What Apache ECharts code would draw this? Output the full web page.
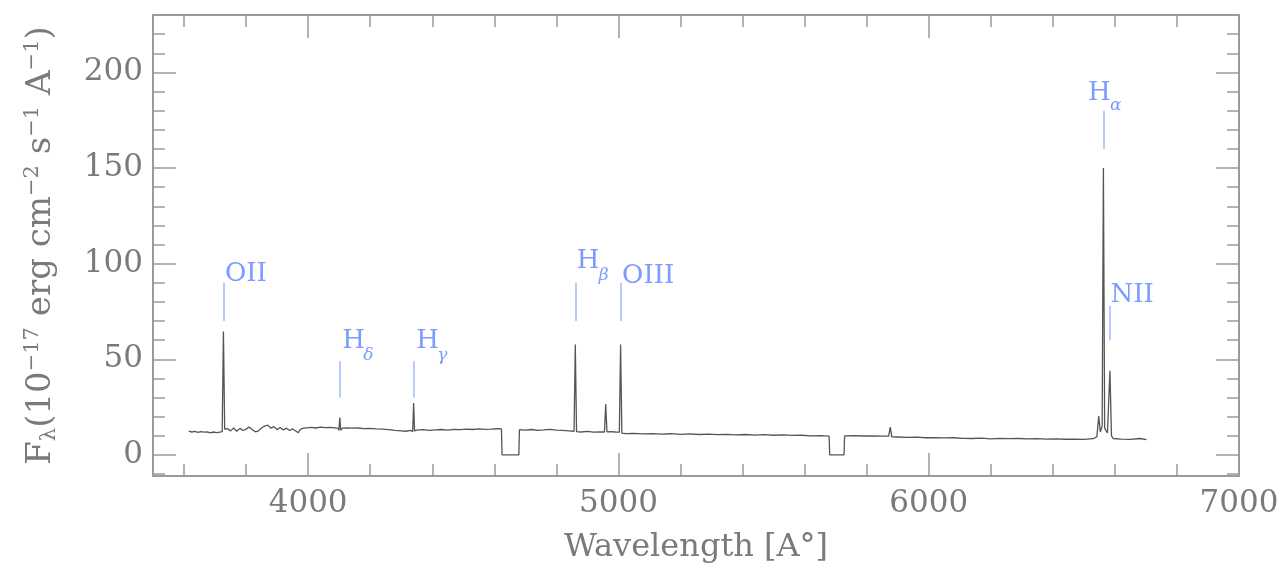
<!DOCTYPE html>
<html><head><meta charset="utf-8">
<script src="https://cdn.jsdelivr.net/npm/echarts@6/dist/echarts.min.js"></script>
<style>html,body{margin:0;padding:0;background:#fff;} #c{width:1282px;height:569px;}</style>
</head><body><div id="c"></div>
<script>
// ---- data ----
const wavelength = [
 3615,3625,3635,3645,3655,3665,3675,3685,3695,3705,3715,3723,
 3727,3731,
 3740,3750,3760,3770,3780,3790,3800,3810,3820,3830,3840,3850,3860,3870,3880,3890,3900,3910,3920,3930,3940,3950,3960,3968,3975,3985,3995,
 4010,4025,4040,4055,4070,4085,4097,4099,4102,4105,4110,
 4125,4140,4160,4180,4200,4220,4240,4260,4280,4300,4315,4330,4337,4340,4343,4350,
 4370,4390,4410,4430,4450,4470,4490,4510,4530,4550,4570,4590,4610,4623,4625,4679,4681,
 4700,4720,4740,4760,4780,4800,4820,4840,4857,4861,4865,4880,4900,4920,4940,4955,4959,4963,4975,4990,5003,5007,5011,5025,
 5050,5080,5110,5140,5170,5200,5230,5260,5290,5320,5350,5380,5410,5440,5470,5500,5530,5560,5590,5620,5650,5679,5681,5727,5729,
 5760,5790,5820,5850,5871,5876,5881,5900,5930,5960,5990,6020,6050,6080,6110,6140,6170,6200,6230,6260,6290,6320,6350,6380,6410,6440,6470,6500,6530,
 6542,6548,6553,6559,6563,6567,6576,6584,6589,6595,6620,6650,6680,6702
];
const flux = [
 12.4,12.0,12.3,11.8,12.2,11.9,12.1,11.6,12.0,11.7,11.9,12.2,
 64.6,13.5,
 13.8,12.6,14.1,12.4,13.9,12.8,13.5,14.6,13.2,12.1,12.6,14.2,15.1,15.6,14.0,14.8,13.2,14.4,13.1,14.0,12.8,13.6,12.5,11.6,13.4,14.0,14.2,
 14.4,14.1,14.5,14.3,14.4,14.2,13.9,12.8,19.6,12.9,14.0,
 14.2,14.0,14.1,13.8,13.9,13.6,13.5,13.2,12.8,12.6,12.4,12.9,12.2,27.2,12.6,13.0,
 13.2,12.9,13.1,13.3,13.0,13.4,13.2,13.5,13.3,13.6,13.4,13.5,13.7,13.6,0,0,13.2,
 13.0,13.3,12.9,13.1,13.4,13.0,12.8,12.6,12.4,57.7,12.2,12.0,12.3,11.9,12.1,12.0,26.6,12.1,12.2,12.0,11.9,57.7,11.4,11.2,
 11.3,11.0,11.2,10.9,11.1,10.8,11.0,10.7,10.9,10.6,10.8,10.5,10.7,10.4,10.6,10.3,10.5,10.2,10.3,10.0,10.1,9.8,0,0,10.0,
 10.1,9.9,10.0,9.8,9.9,14.6,9.5,9.4,9.2,9.3,9.0,9.1,8.9,9.0,8.7,8.6,8.8,8.4,8.7,8.5,8.6,8.4,8.5,8.3,8.4,8.2,8.3,8.1,8.5,
 9.6,20.3,12.0,15.0,150,14.0,11.5,44,10.0,8.6,8.3,8.1,8.6,8.0
];
const xMajorTicks = [4000, 5000, 6000, 7000];
const xMinorTicks = [3600,3800,4200,4400,4600,4800,5200,5400,5600,5800,6200,6400,6600,6800];
const yMajorTicks = [0, 50, 100, 150, 200];
const yMinorTicks = [-10,10,20,30,40,60,70,80,90,110,120,130,140,160,170,180,190,210,220];
const lineNames = ['OII', 'Hδ', 'Hγ', 'Hβ', 'OIII', 'Hα', 'NII'];
const lineWave  = [3727, 4102, 4340, 4861, 5007, 6563, 6584];
const markLow   = [70, 30, 30, 70, 70, 160, 60];
const markHigh  = [90, 49, 49, 90, 90, 180, 78];

// ---- layout / style ----
const X_MIN = 3500, X_MAX = 7000, Y_MIN = -11, Y_MAX = 230;
const serif = 'DejaVu Serif';
const axisColor = '#9a9a9a';
const textColor = '#7a7a7a';
const blue = '#5a82ff';
const blueLine = '#a6bdff';
const MAIN_FS = 26, SUB_FS = 17;
const labelLayout = {
  'OII':  {dx: 2,  dy: 0},
  'OIII': {dx: 2,  dy: 2},
  'NII':  {dx: 1,  dy: -2},
  'Hδ':   {dx: 3,  dy: -12, sdx: 24, sdy: 0},
  'Hγ':   {dx: 3,  dy: -12, sdx: 24, sdy: 0},
  'Hβ':   {dx: 2,  dy: -13, sdx: 24, sdy: -2},
  'Hα':   {dx: -15, dy: -9, sdx: 7,  sdy: 1}
};
const plainNum = v => String(Math.round(v));

function xAx(position, ticks, len, withLabels) {
  return {
    type: 'value', min: X_MIN, max: X_MAX, position: position,
    axisLine: {show: len > 15, onZero: false, lineStyle: {color: axisColor, width: 2}},
    axisTick: {show: true, inside: true, length: len, customValues: ticks, lineStyle: {color: axisColor, width: 1.5}},
    axisLabel: withLabels ? {show: true, customValues: ticks, formatter: plainNum, margin: 12, color: textColor, fontFamily: serif, fontSize: 31} : {show: false},
    splitLine: {show: false}
  };
}
function yAx(position, ticks, len, withLabels) {
  return {
    type: 'value', min: Y_MIN, max: Y_MAX, position: position,
    axisLine: {show: len > 15, onZero: false, lineStyle: {color: axisColor, width: 2}},
    axisTick: {show: true, inside: true, length: len, customValues: ticks, lineStyle: {color: axisColor, width: 1.5}},
    axisLabel: withLabels ? {show: true, customValues: ticks, formatter: plainNum, margin: 10, color: textColor, fontFamily: serif, fontSize: 31} : {show: false},
    splitLine: {show: false}
  };
}

const xAxes = [
  xAx('bottom', xMajorTicks, 23, true),
  xAx('bottom', xMinorTicks, 12, false),
  xAx('top', xMajorTicks, 23, false),
  xAx('top', xMinorTicks, 12, false)
];
Object.assign(xAxes[0], {
  name: 'Wavelength [A°]', nameLocation: 'middle', nameGap: 56,
  nameTextStyle: {color: textColor, fontFamily: serif, fontSize: 32}
});
const yAxes = [
  yAx('left', yMajorTicks, 23, true),
  yAx('left', yMinorTicks, 12, false),
  yAx('right', yMajorTicks, 23, false),
  yAx('right', yMinorTicks, 12, false)
];
Object.assign(yAxes[0], {
  name: '{m|F}{sb|λ}{m|(10}{sp|−17}{m| erg cm}{sp|−2}{m| s}{sp|−1}{m| A}{sp|−1}{m|)}',
  nameLocation: 'middle', nameGap: 93,
  nameTextStyle: {
    color: textColor, fontFamily: serif, fontSize: 34,
    rich: {
      m:  {color: textColor, fontFamily: serif, fontSize: 34, lineHeight: 38, verticalAlign: 'middle'},
      sp: {color: textColor, fontFamily: serif, fontSize: 21, lineHeight: 21, verticalAlign: 'top'},
      sb: {color: textColor, fontFamily: serif, fontSize: 21, lineHeight: 21, verticalAlign: 'bottom'}
    }
  }
});

const spectrum = wavelength.map((w, i) => [w, flux[i]]);
const markSegments = lineWave.map((w, i) => [{coord: [w, markLow[i]]}, {coord: [w, markHigh[i]]}]);

const mainLabels = lineNames.map((n, i) => {
  const L = labelLayout[n];
  const greek = n.length === 2 && n[0] === 'H';
  return {
    value: [lineWave[i], markHigh[i]],
    label: {
      formatter: greek ? 'H' : n,
      offset: [L.dx, L.dy - 0.3 * MAIN_FS]
    }
  };
});
const subLabels = lineNames.map((n, i) => ({n, i})).filter(o => o.n.length === 2 && o.n[0] === 'H').map(o => {
  const L = labelLayout[o.n];
  return {
    value: [lineWave[o.i], markHigh[o.i]],
    label: {formatter: o.n.slice(1), offset: [L.sdx, L.sdy - 0.3 * SUB_FS]}
  };
});

const chart = echarts.init(document.getElementById('c'), null, {renderer: 'canvas'});
chart.setOption({
  animation: false,
  backgroundColor: '#ffffff',
  grid: {left: 153, right: 43, top: 15, bottom: 92},
  xAxis: xAxes,
  yAxis: yAxes,
  series: [
    {
      type: 'line', data: spectrum, xAxisIndex: 0, yAxisIndex: 0,
      showSymbol: false, symbol: 'none',
      lineStyle: {color: '#555555', width: 1.3},
      markLine: {
        silent: true, symbol: ['none', 'none'], animation: false,
        label: {show: false},
        lineStyle: {color: blueLine, width: 1.6, type: 'solid'},
        emphasis: {disabled: true},
        data: markSegments
      }
    },
    {
      type: 'scatter', data: mainLabels, symbolSize: 1, itemStyle: {color: 'transparent'},
      silent: true,
      label: {show: true, position: [0, 0], align: 'left', verticalAlign: 'middle',
        color: blue, fontFamily: serif, fontSize: MAIN_FS}
    },
    {
      type: 'scatter', data: subLabels, symbolSize: 1, itemStyle: {color: 'transparent'},
      silent: true,
      label: {show: true, position: [0, 0], align: 'left', verticalAlign: 'middle',
        color: blue, fontFamily: serif, fontSize: SUB_FS, fontStyle: 'italic'}
    }
  ]
});
</script>
</body></html>
